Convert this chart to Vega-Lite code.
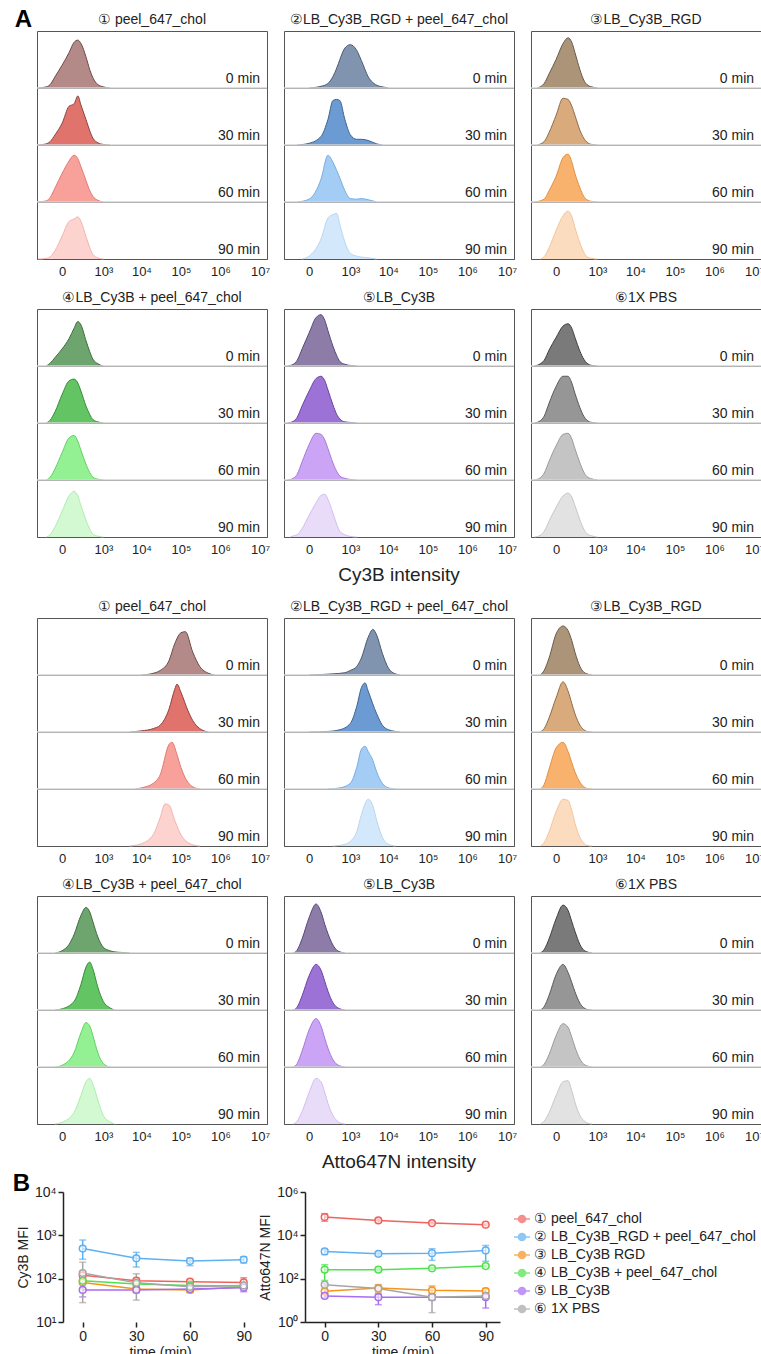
{
"$schema": "https://vega.github.io/schema/vega-lite/v6.json",
"background": "white",
"padding": {"left": 12, "top": 7, "right": 0, "bottom": 0},
"config": {"font": "Liberation Sans", "view": {"stroke": "#555", "strokeWidth": 1}},
"datasets": {
"hist": [
{"g":"C","p":"① peel_647_chol","t":"0 min","k":"1-0","x":[-300,-150,-100,-50,0,50,100,150,200,300,400,500,700,1000,1500],"y":[0,0.02,0.06,0.2,0.4,0.62,0.8,0.84,0.78,0.55,0.32,0.18,0.06,0.02,0]},
{"g":"C","p":"① peel_647_chol","t":"30 min","k":"1-30","x":[-300,-150,-100,-50,0,50,100,150,200,300,400,500,700,1000,1500],"y":[0,0.02,0.06,0.18,0.38,0.68,0.72,0.86,0.7,0.45,0.25,0.12,0.04,0.01,0]},
{"g":"C","p":"① peel_647_chol","t":"60 min","k":"1-60","x":[-300,-150,-100,-50,0,50,100,150,200,300,400,500,700,1000],"y":[0,0.02,0.08,0.25,0.5,0.72,0.82,0.76,0.62,0.38,0.2,0.1,0.03,0]},
{"g":"C","p":"① peel_647_chol","t":"90 min","k":"1-90","x":[-300,-150,-100,-50,0,50,100,150,200,300,400,500,700,1000],"y":[0,0.01,0.04,0.15,0.4,0.66,0.7,0.74,0.66,0.4,0.2,0.08,0.02,0]},
{"g":"C","p":"②LB_Cy3B_RGD + peel_647_chol","t":"0 min","k":"2-0","x":[0,100,200,300,400,500,700,1000,1500,2000,3000,5000,7000,10000],"y":[0,0.03,0.08,0.2,0.35,0.5,0.7,0.76,0.66,0.48,0.2,0.05,0.02,0]},
{"g":"C","p":"②LB_Cy3B_RGD + peel_647_chol","t":"30 min","k":"2-30","x":[-100,0,100,200,300,400,500,700,1000,1500,2000,3000,5000,7000],"y":[0,0.03,0.15,0.45,0.78,0.8,0.78,0.45,0.18,0.1,0.1,0.08,0.02,0]},
{"g":"C","p":"②LB_Cy3B_RGD + peel_647_chol","t":"60 min","k":"2-60","x":[-100,0,100,200,300,400,500,700,1000,1500,2000,3000,5000],"y":[0,0.05,0.4,0.82,0.7,0.55,0.42,0.2,0.06,0.05,0.06,0.04,0]},
{"g":"C","p":"②LB_Cy3B_RGD + peel_647_chol","t":"90 min","k":"2-90","x":[-50,0,100,200,300,400,500,700,1000,1500,3000,5000],"y":[0,0.05,0.35,0.72,0.78,0.8,0.6,0.3,0.1,0.05,0.02,0]},
{"g":"C","p":"③LB_Cy3B_RGD","t":"0 min","k":"3-0","x":[-200,-100,-50,0,50,100,150,200,300,400,500,700,1000],"y":[0,0.08,0.25,0.5,0.78,0.88,0.8,0.62,0.32,0.14,0.06,0.02,0]},
{"g":"C","p":"③LB_Cy3B_RGD","t":"30 min","k":"3-30","x":[-200,-100,-50,0,50,100,150,200,300,400,500,700,1000],"y":[0,0.06,0.22,0.52,0.82,0.8,0.68,0.52,0.26,0.12,0.05,0.01,0]},
{"g":"C","p":"③LB_Cy3B_RGD","t":"60 min","k":"3-60","x":[-250,-100,-50,0,50,100,150,200,300,400,500,700,1000],"y":[0,0.05,0.2,0.45,0.78,0.84,0.7,0.5,0.25,0.1,0.04,0.01,0]},
{"g":"C","p":"③LB_Cy3B_RGD","t":"90 min","k":"3-90","x":[-150,-100,-50,0,50,100,150,200,300,400,500,700,1000],"y":[0,0.04,0.2,0.5,0.76,0.84,0.74,0.55,0.28,0.12,0.04,0.01,0]},
{"g":"C","p":"④LB_Cy3B + peel_647_chol","t":"0 min","k":"4-0","x":[-150,-100,-50,0,50,100,150,200,300,400,500,700,1000],"y":[0,0.05,0.15,0.3,0.48,0.66,0.78,0.72,0.45,0.25,0.12,0.04,0]},
{"g":"C","p":"④LB_Cy3B + peel_647_chol","t":"30 min","k":"4-30","x":[-150,-100,-50,0,50,100,150,200,300,400,500,700,1000],"y":[0,0.05,0.2,0.5,0.74,0.77,0.7,0.56,0.3,0.15,0.06,0.02,0]},
{"g":"C","p":"④LB_Cy3B + peel_647_chol","t":"60 min","k":"4-60","x":[-150,-100,-50,0,50,100,150,200,300,400,500,700,1000],"y":[0,0.05,0.2,0.48,0.74,0.78,0.68,0.52,0.28,0.13,0.05,0.015,0]},
{"g":"C","p":"④LB_Cy3B + peel_647_chol","t":"90 min","k":"4-90","x":[-150,-100,-50,0,50,100,150,200,300,400,500,700,1000],"y":[0,0.04,0.18,0.45,0.72,0.8,0.72,0.55,0.3,0.14,0.05,0.015,0]},
{"g":"C","p":"⑤LB_Cy3B","t":"0 min","k":"5-0","x":[-250,-150,-100,-50,0,50,100,150,200,300,400,500,700,1000,1500],"y":[0,0.03,0.1,0.3,0.58,0.85,0.9,0.8,0.62,0.35,0.18,0.08,0.03,0.01,0]},
{"g":"C","p":"⑤LB_Cy3B","t":"30 min","k":"5-30","x":[-250,-150,-100,-50,0,50,100,150,200,300,400,500,700,1000,1500],"y":[0,0.03,0.1,0.3,0.56,0.78,0.82,0.74,0.58,0.32,0.15,0.07,0.02,0.01,0]},
{"g":"C","p":"⑤LB_Cy3B","t":"60 min","k":"5-60","x":[-250,-150,-100,-50,0,50,100,150,200,300,400,500,700,1000,1500],"y":[0,0.03,0.1,0.32,0.62,0.82,0.8,0.7,0.55,0.3,0.15,0.07,0.03,0.01,0]},
{"g":"C","p":"⑤LB_Cy3B","t":"90 min","k":"5-90","x":[-200,-150,-100,-50,0,50,100,150,200,300,400,500,700,1000,1500],"y":[0,0.02,0.04,0.15,0.38,0.6,0.73,0.75,0.66,0.42,0.22,0.1,0.04,0.01,0]},
{"g":"C","p":"⑥1X PBS","t":"0 min","k":"6-0","x":[-250,-150,-100,-50,0,50,100,150,200,300,400,500,700,1000],"y":[0,0.04,0.1,0.28,0.5,0.7,0.74,0.66,0.5,0.26,0.12,0.05,0.01,0]},
{"g":"C","p":"⑥1X PBS","t":"30 min","k":"6-30","x":[-250,-150,-100,-50,0,50,100,150,200,300,400,500,700,1000],"y":[0,0.04,0.12,0.35,0.64,0.82,0.82,0.7,0.52,0.27,0.12,0.05,0.01,0]},
{"g":"C","p":"⑥1X PBS","t":"60 min","k":"6-60","x":[-250,-150,-100,-50,0,50,100,150,200,300,400,500,700,1000],"y":[0,0.04,0.12,0.33,0.6,0.8,0.82,0.72,0.55,0.3,0.14,0.06,0.02,0]},
{"g":"C","p":"⑥1X PBS","t":"90 min","k":"6-90","x":[-250,-150,-100,-50,0,50,100,150,200,300,400,500,700,1000],"y":[0,0.03,0.1,0.28,0.52,0.72,0.77,0.7,0.55,0.3,0.14,0.06,0.02,0]},
{"g":"A","p":"① peel_647_chol","t":"0 min","k":"1-0","x":[10000,20000,30000,50000,70000,100000,130000,200000,300000,500000,700000],"y":[0,0.03,0.08,0.25,0.55,0.74,0.76,0.4,0.15,0.03,0]},
{"g":"A","p":"① peel_647_chol","t":"30 min","k":"1-30","x":[5000,10000,20000,30000,50000,70000,80000,100000,150000,200000,300000,500000],"y":[0,0.02,0.06,0.12,0.4,0.75,0.84,0.7,0.38,0.2,0.06,0]},
{"g":"A","p":"① peel_647_chol","t":"60 min","k":"1-60","x":[7000,10000,20000,30000,50000,60000,80000,100000,150000,200000,300000],"y":[0,0.02,0.1,0.25,0.78,0.82,0.6,0.38,0.12,0.04,0]},
{"g":"A","p":"① peel_647_chol","t":"90 min","k":"1-90","x":[5000,10000,20000,30000,40000,50000,70000,100000,150000,200000,300000],"y":[0,0.04,0.2,0.5,0.74,0.72,0.45,0.2,0.06,0.02,0]},
{"g":"A","p":"②LB_Cy3B_RGD + peel_647_chol","t":"0 min","k":"2-0","x":[0,300,700,1000,1500,2000,3000,4000,5000,7000,10000,15000,20000],"y":[0,0.02,0.04,0.08,0.15,0.3,0.66,0.8,0.7,0.38,0.12,0.02,0]},
{"g":"A","p":"②LB_Cy3B_RGD + peel_647_chol","t":"30 min","k":"2-30","x":[0,200,500,1000,1500,2000,2500,3000,5000,7000,10000,20000],"y":[0,0.01,0.04,0.15,0.45,0.78,0.86,0.72,0.32,0.12,0.04,0]},
{"g":"A","p":"②LB_Cy3B_RGD + peel_647_chol","t":"60 min","k":"2-60","x":[200,500,1000,1500,2000,2500,3000,4000,5000,7000,10000,15000],"y":[0,0.02,0.1,0.38,0.7,0.75,0.66,0.5,0.3,0.1,0.02,0]},
{"g":"A","p":"②LB_Cy3B_RGD + peel_647_chol","t":"90 min","k":"2-90","x":[300,700,1000,1500,2000,3000,4000,5000,7000,10000,15000],"y":[0,0.03,0.08,0.25,0.55,0.82,0.7,0.45,0.15,0.03,0]},
{"g":"A","p":"③LB_Cy3B_RGD","t":"0 min","k":"3-0","x":[-150,-100,-50,0,50,100,150,200,300,400,500,700],"y":[0,0.08,0.3,0.72,0.86,0.78,0.6,0.4,0.15,0.05,0.02,0]},
{"g":"A","p":"③LB_Cy3B_RGD","t":"30 min","k":"3-30","x":[-150,-100,-50,0,50,100,150,200,300,400,500,700],"y":[0,0.06,0.25,0.6,0.88,0.72,0.5,0.32,0.12,0.04,0.01,0]},
{"g":"A","p":"③LB_Cy3B_RGD","t":"60 min","k":"3-60","x":[-150,-100,-50,0,50,100,150,200,300,400,500,700],"y":[0,0.08,0.35,0.72,0.82,0.66,0.46,0.3,0.12,0.04,0.01,0]},
{"g":"A","p":"③LB_Cy3B_RGD","t":"90 min","k":"3-90","x":[-150,-100,-50,0,50,100,150,200,300,400,500,700],"y":[0,0.06,0.25,0.6,0.82,0.8,0.62,0.4,0.15,0.05,0.01,0]},
{"g":"A","p":"④LB_Cy3B + peel_647_chol","t":"0 min","k":"4-0","x":[-50,0,50,100,200,300,400,500,700,1000,1500,2000,3000,5000],"y":[0,0.04,0.15,0.32,0.66,0.8,0.72,0.55,0.28,0.1,0.04,0.02,0.01,0]},
{"g":"A","p":"④LB_Cy3B + peel_647_chol","t":"30 min","k":"4-30","x":[-50,0,100,200,300,400,500,700,1000,1500,2000],"y":[0,0.02,0.15,0.45,0.75,0.84,0.72,0.4,0.15,0.04,0]},
{"g":"A","p":"④LB_Cy3B + peel_647_chol","t":"60 min","k":"4-60","x":[-50,0,100,200,300,400,500,700,1000,1500],"y":[0,0.03,0.25,0.6,0.78,0.72,0.55,0.25,0.06,0]},
{"g":"A","p":"④LB_Cy3B + peel_647_chol","t":"90 min","k":"4-90","x":[-50,0,100,200,300,400,500,700,1000,1500,2000],"y":[0,0.03,0.2,0.5,0.74,0.8,0.7,0.42,0.15,0.04,0]},
{"g":"A","p":"⑤LB_Cy3B","t":"0 min","k":"5-0","x":[-150,-100,-50,0,50,100,150,200,300,400,500,700],"y":[0,0.05,0.25,0.62,0.86,0.72,0.5,0.34,0.14,0.05,0.02,0]},
{"g":"A","p":"⑤LB_Cy3B","t":"30 min","k":"5-30","x":[-150,-100,-50,0,50,100,150,200,300,400,500,700],"y":[0,0.05,0.25,0.6,0.8,0.7,0.5,0.33,0.13,0.05,0.02,0]},
{"g":"A","p":"⑤LB_Cy3B","t":"60 min","k":"5-60","x":[-150,-100,-50,0,50,100,150,200,300,400,500,700],"y":[0,0.06,0.28,0.65,0.85,0.72,0.5,0.33,0.13,0.05,0.02,0]},
{"g":"A","p":"⑤LB_Cy3B","t":"90 min","k":"5-90","x":[-150,-100,-50,0,50,100,150,200,300,400,500,700],"y":[0,0.05,0.22,0.55,0.8,0.74,0.55,0.36,0.15,0.06,0.02,0]},
{"g":"A","p":"⑥1X PBS","t":"0 min","k":"6-0","x":[-150,-100,-50,0,50,100,150,200,300,400,500,700],"y":[0,0.06,0.25,0.6,0.84,0.75,0.55,0.38,0.15,0.05,0.02,0]},
{"g":"A","p":"⑥1X PBS","t":"30 min","k":"6-30","x":[-150,-100,-50,0,50,100,150,200,300,400,500,700],"y":[0,0.06,0.26,0.62,0.8,0.66,0.48,0.32,0.12,0.04,0.01,0]},
{"g":"A","p":"⑥1X PBS","t":"60 min","k":"6-60","x":[-150,-100,-50,0,50,100,150,200,300,400,500,700],"y":[0,0.05,0.22,0.55,0.76,0.7,0.52,0.35,0.14,0.05,0.02,0]},
{"g":"A","p":"⑥1X PBS","t":"90 min","k":"6-90","x":[-150,-100,-50,0,50,100,150,200,300,400,500,700],"y":[0,0.05,0.2,0.5,0.74,0.76,0.58,0.38,0.15,0.06,0.02,0]}
],
"mfi": [
{"m":"C","s":"① peel_647_chol","time":0,"v":120,"lo":100,"hi":140},
{"m":"C","s":"① peel_647_chol","time":30,"v":90,"lo":80,"hi":102},
{"m":"C","s":"① peel_647_chol","time":60,"v":85,"lo":78,"hi":92},
{"m":"C","s":"① peel_647_chol","time":90,"v":82,"lo":62,"hi":105},
{"m":"C","s":"② LB_Cy3B_RGD + peel_647_chol","time":0,"v":495,"lo":280,"hi":780},
{"m":"C","s":"② LB_Cy3B_RGD + peel_647_chol","time":30,"v":295,"lo":185,"hi":405},
{"m":"C","s":"② LB_Cy3B_RGD + peel_647_chol","time":60,"v":255,"lo":200,"hi":300},
{"m":"C","s":"② LB_Cy3B_RGD + peel_647_chol","time":90,"v":275,"lo":230,"hi":320},
{"m":"C","s":"③ LB_Cy3B RGD","time":0,"v":82,"lo":58,"hi":105},
{"m":"C","s":"③ LB_Cy3B RGD","time":30,"v":58,"lo":48,"hi":70},
{"m":"C","s":"③ LB_Cy3B RGD","time":60,"v":55,"lo":48,"hi":62},
{"m":"C","s":"③ LB_Cy3B RGD","time":90,"v":65,"lo":60,"hi":70},
{"m":"C","s":"④ LB_Cy3B + peel_647_chol","time":0,"v":90,"lo":82,"hi":98},
{"m":"C","s":"④ LB_Cy3B + peel_647_chol","time":30,"v":75,"lo":68,"hi":82},
{"m":"C","s":"④ LB_Cy3B + peel_647_chol","time":60,"v":70,"lo":48,"hi":80},
{"m":"C","s":"④ LB_Cy3B + peel_647_chol","time":90,"v":68,"lo":62,"hi":72},
{"m":"C","s":"⑤ LB_Cy3B","time":0,"v":55,"lo":38,"hi":80},
{"m":"C","s":"⑤ LB_Cy3B","time":30,"v":55,"lo":48,"hi":62},
{"m":"C","s":"⑤ LB_Cy3B","time":60,"v":58,"lo":52,"hi":64},
{"m":"C","s":"⑤ LB_Cy3B","time":90,"v":62,"lo":50,"hi":72},
{"m":"C","s":"⑥ 1X PBS","time":0,"v":135,"lo":28,"hi":240},
{"m":"C","s":"⑥ 1X PBS","time":30,"v":80,"lo":32,"hi":130},
{"m":"C","s":"⑥ 1X PBS","time":60,"v":65,"lo":55,"hi":75},
{"m":"C","s":"⑥ 1X PBS","time":90,"v":70,"lo":62,"hi":80},
{"m":"A","s":"① peel_647_chol","time":0,"v":70000,"lo":45000,"hi":100000},
{"m":"A","s":"① peel_647_chol","time":30,"v":49000,"lo":40000,"hi":58000},
{"m":"A","s":"① peel_647_chol","time":60,"v":37000,"lo":33000,"hi":42000},
{"m":"A","s":"① peel_647_chol","time":90,"v":31000,"lo":28000,"hi":34000},
{"m":"A","s":"② LB_Cy3B_RGD + peel_647_chol","time":0,"v":1800,"lo":1300,"hi":2200},
{"m":"A","s":"② LB_Cy3B_RGD + peel_647_chol","time":30,"v":1400,"lo":1100,"hi":1700},
{"m":"A","s":"② LB_Cy3B_RGD + peel_647_chol","time":60,"v":1500,"lo":700,"hi":2400},
{"m":"A","s":"② LB_Cy3B_RGD + peel_647_chol","time":90,"v":2000,"lo":630,"hi":3400},
{"m":"A","s":"③ LB_Cy3B RGD","time":0,"v":26,"lo":20,"hi":32},
{"m":"A","s":"③ LB_Cy3B RGD","time":30,"v":37,"lo":24,"hi":53},
{"m":"A","s":"③ LB_Cy3B RGD","time":60,"v":29,"lo":18,"hi":46},
{"m":"A","s":"③ LB_Cy3B RGD","time":90,"v":27,"lo":20,"hi":35},
{"m":"A","s":"④ LB_Cy3B + peel_647_chol","time":0,"v":260,"lo":83,"hi":440},
{"m":"A","s":"④ LB_Cy3B + peel_647_chol","time":30,"v":260,"lo":230,"hi":290},
{"m":"A","s":"④ LB_Cy3B + peel_647_chol","time":60,"v":300,"lo":270,"hi":330},
{"m":"A","s":"④ LB_Cy3B + peel_647_chol","time":90,"v":380,"lo":340,"hi":420},
{"m":"A","s":"⑤ LB_Cy3B","time":0,"v":16,"lo":13,"hi":19},
{"m":"A","s":"⑤ LB_Cy3B","time":30,"v":14,"lo":6.3,"hi":20},
{"m":"A","s":"⑤ LB_Cy3B","time":60,"v":14,"lo":10,"hi":18},
{"m":"A","s":"⑤ LB_Cy3B","time":90,"v":14,"lo":4.4,"hi":22},
{"m":"A","s":"⑥ 1X PBS","time":0,"v":53,"lo":45,"hi":60},
{"m":"A","s":"⑥ 1X PBS","time":30,"v":35,"lo":30,"hi":40},
{"m":"A","s":"⑥ 1X PBS","time":60,"v":14,"lo":2.7,"hi":20},
{"m":"A","s":"⑥ 1X PBS","time":90,"v":16,"lo":12,"hi":20}
]
},
"vconcat": [
{
"spacing": 15,
"vconcat": [
{
"spacing": 13,
"vconcat": [
{
"data": {"name": "hist"},
"transform": [{"filter": {"and": [{"field": "g", "equal": "C"}, {"field": "p", "oneOf": ["① peel_647_chol", "②LB_Cy3B_RGD + peel_647_chol", "③LB_Cy3B_RGD"]}]}}, {"flatten": ["x", "y"]}],
"facet": {
"row": {"field": "t", "type": "nominal", "sort": ["0 min", "30 min", "60 min", "90 min"], "header": null},
"column": {"field": "p", "type": "nominal", "sort": ["① peel_647_chol", "②LB_Cy3B_RGD + peel_647_chol", "③LB_Cy3B_RGD"], "title": null, "header": {"labelOrient": "top", "labelFontSize": 14, "labelPadding": 4, "labelColor": "#222"}}
},
"spacing": {"row": 0, "column": 17},
"bounds": "flush",
"spec": {
"width": 230, "height": 57,
"layer": [
{"mark": {"type": "area", "interpolate": "monotone"},
 "encoding": {
  "x": {"field": "x", "type": "quantitative", "scale": {"type": "symlog", "constant": 100, "domain": [-330, 15000000], "nice": false, "zero": false}, "axis": {"values": [0, 1000, 10000, 100000, 1000000, 10000000], "labelExpr": "datum.value == 0 ? '0' : '10' + ['','','','³','⁴','⁵','⁶','⁷'][round(log(datum.value)/LN10)]", "title": null, "ticks": false, "grid": false, "labelFontSize": 13, "labelPadding": 6, "labelColor": "#222", "domainColor": "#444", "labelFlush": false, "labelOverlap": false}},
  "y": {"field": "y", "type": "quantitative", "scale": {"domain": [0, 1]}, "axis": null, "stack": null},
  "fill": {"field": "k", "type": "nominal", "scale": {"domain": ["1-0","1-30","1-60","1-90","2-0","2-30","2-60","2-90","3-0","3-30","3-60","3-90","4-0","4-30","4-60","4-90","5-0","5-30","5-60","5-90","6-0","6-30","6-60","6-90"], "range": ["#b48a88","#e0736c","#f8a19b","#fcd3cf","#8094b0","#6b9bd2","#a3cdf5","#d4e8fb","#ab9478","#d9ab7c","#f9b26e","#fcdcbf","#6ea56e","#63c463","#93f093","#d3f9d3","#8d7ca8","#9c72d6","#cba4f5","#e8dcf9","#7a7a7a","#969696","#c4c4c4","#e2e2e2"]}, "legend": null}
 }},
{"mark": {"type": "line", "interpolate": "monotone", "strokeWidth": 1},
 "encoding": {
  "x": {"field": "x", "type": "quantitative"},
  "y": {"field": "y", "type": "quantitative"},
  "stroke": {"field": "k", "type": "nominal", "scale": {"domain": ["1-0","1-30","1-60","1-90","2-0","2-30","2-60","2-90","3-0","3-30","3-60","3-90","4-0","4-30","4-60","4-90","5-0","5-30","5-60","5-90","6-0","6-30","6-60","6-90"], "range": ["#6b4a48","#8c4440","#e07a74","#f4b4ae","#4a5a70","#3d6490","#78aee0","#b8d6f2","#6a5a48","#8e6c48","#e09040","#f4c498","#3e6a3e","#3a8a3a","#62d062","#b0ecb0","#56487a","#6a44a4","#a47ad8","#d2bdf2","#404040","#5a5a5a","#9a9a9a","#c8c8c8"]}, "legend": null}
 }},
{"transform": [{"aggregate": [{"op": "count", "as": "n"}], "groupby": ["p", "t"]}, {"filter": "datum.t != '0 min'"}],
 "mark": {"type": "rule", "color": "#d4d4d4", "strokeWidth": 1.5},
 "encoding": {"y": {"datum": 1, "type": "quantitative"}}},
{"transform": [{"aggregate": [{"op": "count", "as": "n"}], "groupby": ["p", "t"]}],
 "mark": {"type": "text", "align": "right", "baseline": "alphabetic", "dy": -5, "fontSize": 14, "color": "#222"},
 "encoding": {"x": {"datum": 10000000, "type": "quantitative"}, "y": {"datum": 0, "type": "quantitative"}, "text": {"field": "t"}}},
{"transform": [{"aggregate": [{"op": "count", "as": "n"}], "groupby": ["p", "t"]}, {"filter": "datum.p == '① peel_647_chol' && datum.t == '0 min'"}],
 "mark": {"type": "text", "text": "A", "align": "right", "baseline": "alphabetic", "dx": -5, "dy": -4, "fontSize": 24, "fontWeight": "bold", "color": "#000"},
 "encoding": {"x": {"datum": -330, "type": "quantitative"}, "y": {"datum": 1, "type": "quantitative"}}}
]
}
},
{
"data": {"name": "hist"},
"transform": [{"filter": {"and": [{"field": "g", "equal": "C"}, {"field": "p", "oneOf": ["④LB_Cy3B + peel_647_chol", "⑤LB_Cy3B", "⑥1X PBS"]}]}}, {"flatten": ["x", "y"]}],
"facet": {
"row": {"field": "t", "type": "nominal", "sort": ["0 min", "30 min", "60 min", "90 min"], "header": null},
"column": {"field": "p", "type": "nominal", "sort": ["④LB_Cy3B + peel_647_chol", "⑤LB_Cy3B", "⑥1X PBS"], "title": "Cy3B intensity", "header": {"labelOrient": "top", "labelFontSize": 14, "labelPadding": 4, "labelColor": "#222", "titleOrient": "bottom", "titleFontSize": 19, "titleFontWeight": "normal", "titleColor": "#222", "titlePadding": 0}}
},
"spacing": {"row": 0, "column": 17},
"bounds": "flush",
"spec": {
"width": 230, "height": 57,
"layer": [
{"mark": {"type": "area", "interpolate": "monotone"},
 "encoding": {
  "x": {"field": "x", "type": "quantitative", "scale": {"type": "symlog", "constant": 100, "domain": [-330, 15000000], "nice": false, "zero": false}, "axis": {"values": [0, 1000, 10000, 100000, 1000000, 10000000], "labelExpr": "datum.value == 0 ? '0' : '10' + ['','','','³','⁴','⁵','⁶','⁷'][round(log(datum.value)/LN10)]", "title": null, "ticks": false, "grid": false, "labelFontSize": 13, "labelPadding": 6, "labelColor": "#222", "domainColor": "#444", "labelFlush": false, "labelOverlap": false}},
  "y": {"field": "y", "type": "quantitative", "scale": {"domain": [0, 1]}, "axis": null, "stack": null},
  "fill": {"field": "k", "type": "nominal", "scale": {"domain": ["1-0","1-30","1-60","1-90","2-0","2-30","2-60","2-90","3-0","3-30","3-60","3-90","4-0","4-30","4-60","4-90","5-0","5-30","5-60","5-90","6-0","6-30","6-60","6-90"], "range": ["#b48a88","#e0736c","#f8a19b","#fcd3cf","#8094b0","#6b9bd2","#a3cdf5","#d4e8fb","#ab9478","#d9ab7c","#f9b26e","#fcdcbf","#6ea56e","#63c463","#93f093","#d3f9d3","#8d7ca8","#9c72d6","#cba4f5","#e8dcf9","#7a7a7a","#969696","#c4c4c4","#e2e2e2"]}, "legend": null}
 }},
{"mark": {"type": "line", "interpolate": "monotone", "strokeWidth": 1},
 "encoding": {
  "x": {"field": "x", "type": "quantitative"},
  "y": {"field": "y", "type": "quantitative"},
  "stroke": {"field": "k", "type": "nominal", "scale": {"domain": ["1-0","1-30","1-60","1-90","2-0","2-30","2-60","2-90","3-0","3-30","3-60","3-90","4-0","4-30","4-60","4-90","5-0","5-30","5-60","5-90","6-0","6-30","6-60","6-90"], "range": ["#6b4a48","#8c4440","#e07a74","#f4b4ae","#4a5a70","#3d6490","#78aee0","#b8d6f2","#6a5a48","#8e6c48","#e09040","#f4c498","#3e6a3e","#3a8a3a","#62d062","#b0ecb0","#56487a","#6a44a4","#a47ad8","#d2bdf2","#404040","#5a5a5a","#9a9a9a","#c8c8c8"]}, "legend": null}
 }},
{"transform": [{"aggregate": [{"op": "count", "as": "n"}], "groupby": ["p", "t"]}, {"filter": "datum.t != '0 min'"}],
 "mark": {"type": "rule", "color": "#d4d4d4", "strokeWidth": 1.5},
 "encoding": {"y": {"datum": 1, "type": "quantitative"}}},
{"transform": [{"aggregate": [{"op": "count", "as": "n"}], "groupby": ["p", "t"]}],
 "mark": {"type": "text", "align": "right", "baseline": "alphabetic", "dy": -5, "fontSize": 14, "color": "#222"},
 "encoding": {"x": {"datum": 10000000, "type": "quantitative"}, "y": {"datum": 0, "type": "quantitative"}, "text": {"field": "t"}}}
]
}
}
]
},
{
"spacing": 13,
"vconcat": [
{
"data": {"name": "hist"},
"transform": [{"filter": {"and": [{"field": "g", "equal": "A"}, {"field": "p", "oneOf": ["① peel_647_chol", "②LB_Cy3B_RGD + peel_647_chol", "③LB_Cy3B_RGD"]}]}}, {"flatten": ["x", "y"]}],
"facet": {
"row": {"field": "t", "type": "nominal", "sort": ["0 min", "30 min", "60 min", "90 min"], "header": null},
"column": {"field": "p", "type": "nominal", "sort": ["① peel_647_chol", "②LB_Cy3B_RGD + peel_647_chol", "③LB_Cy3B_RGD"], "title": null, "header": {"labelOrient": "top", "labelFontSize": 14, "labelPadding": 4, "labelColor": "#222"}}
},
"spacing": {"row": 0, "column": 17},
"bounds": "flush",
"spec": {
"width": 230, "height": 57,
"layer": [
{"mark": {"type": "area", "interpolate": "monotone"},
 "encoding": {
  "x": {"field": "x", "type": "quantitative", "scale": {"type": "symlog", "constant": 100, "domain": [-330, 15000000], "nice": false, "zero": false}, "axis": {"values": [0, 1000, 10000, 100000, 1000000, 10000000], "labelExpr": "datum.value == 0 ? '0' : '10' + ['','','','³','⁴','⁵','⁶','⁷'][round(log(datum.value)/LN10)]", "title": null, "ticks": false, "grid": false, "labelFontSize": 13, "labelPadding": 6, "labelColor": "#222", "domainColor": "#444", "labelFlush": false, "labelOverlap": false}},
  "y": {"field": "y", "type": "quantitative", "scale": {"domain": [0, 1]}, "axis": null, "stack": null},
  "fill": {"field": "k", "type": "nominal", "scale": {"domain": ["1-0","1-30","1-60","1-90","2-0","2-30","2-60","2-90","3-0","3-30","3-60","3-90","4-0","4-30","4-60","4-90","5-0","5-30","5-60","5-90","6-0","6-30","6-60","6-90"], "range": ["#b48a88","#e0736c","#f8a19b","#fcd3cf","#8094b0","#6b9bd2","#a3cdf5","#d4e8fb","#ab9478","#d9ab7c","#f9b26e","#fcdcbf","#6ea56e","#63c463","#93f093","#d3f9d3","#8d7ca8","#9c72d6","#cba4f5","#e8dcf9","#7a7a7a","#969696","#c4c4c4","#e2e2e2"]}, "legend": null}
 }},
{"mark": {"type": "line", "interpolate": "monotone", "strokeWidth": 1},
 "encoding": {
  "x": {"field": "x", "type": "quantitative"},
  "y": {"field": "y", "type": "quantitative"},
  "stroke": {"field": "k", "type": "nominal", "scale": {"domain": ["1-0","1-30","1-60","1-90","2-0","2-30","2-60","2-90","3-0","3-30","3-60","3-90","4-0","4-30","4-60","4-90","5-0","5-30","5-60","5-90","6-0","6-30","6-60","6-90"], "range": ["#6b4a48","#8c4440","#e07a74","#f4b4ae","#4a5a70","#3d6490","#78aee0","#b8d6f2","#6a5a48","#8e6c48","#e09040","#f4c498","#3e6a3e","#3a8a3a","#62d062","#b0ecb0","#56487a","#6a44a4","#a47ad8","#d2bdf2","#404040","#5a5a5a","#9a9a9a","#c8c8c8"]}, "legend": null}
 }},
{"transform": [{"aggregate": [{"op": "count", "as": "n"}], "groupby": ["p", "t"]}, {"filter": "datum.t != '0 min'"}],
 "mark": {"type": "rule", "color": "#d4d4d4", "strokeWidth": 1.5},
 "encoding": {"y": {"datum": 1, "type": "quantitative"}}},
{"transform": [{"aggregate": [{"op": "count", "as": "n"}], "groupby": ["p", "t"]}],
 "mark": {"type": "text", "align": "right", "baseline": "alphabetic", "dy": -5, "fontSize": 14, "color": "#222"},
 "encoding": {"x": {"datum": 10000000, "type": "quantitative"}, "y": {"datum": 0, "type": "quantitative"}, "text": {"field": "t"}}}
]
}
},
{
"data": {"name": "hist"},
"transform": [{"filter": {"and": [{"field": "g", "equal": "A"}, {"field": "p", "oneOf": ["④LB_Cy3B + peel_647_chol", "⑤LB_Cy3B", "⑥1X PBS"]}]}}, {"flatten": ["x", "y"]}],
"facet": {
"row": {"field": "t", "type": "nominal", "sort": ["0 min", "30 min", "60 min", "90 min"], "header": null},
"column": {"field": "p", "type": "nominal", "sort": ["④LB_Cy3B + peel_647_chol", "⑤LB_Cy3B", "⑥1X PBS"], "title": "Atto647N intensity", "header": {"labelOrient": "top", "labelFontSize": 14, "labelPadding": 4, "labelColor": "#222", "titleOrient": "bottom", "titleFontSize": 19, "titleFontWeight": "normal", "titleColor": "#222", "titlePadding": 0}}
},
"spacing": {"row": 0, "column": 17},
"bounds": "flush",
"spec": {
"width": 230, "height": 57,
"layer": [
{"mark": {"type": "area", "interpolate": "monotone"},
 "encoding": {
  "x": {"field": "x", "type": "quantitative", "scale": {"type": "symlog", "constant": 100, "domain": [-330, 15000000], "nice": false, "zero": false}, "axis": {"values": [0, 1000, 10000, 100000, 1000000, 10000000], "labelExpr": "datum.value == 0 ? '0' : '10' + ['','','','³','⁴','⁵','⁶','⁷'][round(log(datum.value)/LN10)]", "title": null, "ticks": false, "grid": false, "labelFontSize": 13, "labelPadding": 6, "labelColor": "#222", "domainColor": "#444", "labelFlush": false, "labelOverlap": false}},
  "y": {"field": "y", "type": "quantitative", "scale": {"domain": [0, 1]}, "axis": null, "stack": null},
  "fill": {"field": "k", "type": "nominal", "scale": {"domain": ["1-0","1-30","1-60","1-90","2-0","2-30","2-60","2-90","3-0","3-30","3-60","3-90","4-0","4-30","4-60","4-90","5-0","5-30","5-60","5-90","6-0","6-30","6-60","6-90"], "range": ["#b48a88","#e0736c","#f8a19b","#fcd3cf","#8094b0","#6b9bd2","#a3cdf5","#d4e8fb","#ab9478","#d9ab7c","#f9b26e","#fcdcbf","#6ea56e","#63c463","#93f093","#d3f9d3","#8d7ca8","#9c72d6","#cba4f5","#e8dcf9","#7a7a7a","#969696","#c4c4c4","#e2e2e2"]}, "legend": null}
 }},
{"mark": {"type": "line", "interpolate": "monotone", "strokeWidth": 1},
 "encoding": {
  "x": {"field": "x", "type": "quantitative"},
  "y": {"field": "y", "type": "quantitative"},
  "stroke": {"field": "k", "type": "nominal", "scale": {"domain": ["1-0","1-30","1-60","1-90","2-0","2-30","2-60","2-90","3-0","3-30","3-60","3-90","4-0","4-30","4-60","4-90","5-0","5-30","5-60","5-90","6-0","6-30","6-60","6-90"], "range": ["#6b4a48","#8c4440","#e07a74","#f4b4ae","#4a5a70","#3d6490","#78aee0","#b8d6f2","#6a5a48","#8e6c48","#e09040","#f4c498","#3e6a3e","#3a8a3a","#62d062","#b0ecb0","#56487a","#6a44a4","#a47ad8","#d2bdf2","#404040","#5a5a5a","#9a9a9a","#c8c8c8"]}, "legend": null}
 }},
{"transform": [{"aggregate": [{"op": "count", "as": "n"}], "groupby": ["p", "t"]}, {"filter": "datum.t != '0 min'"}],
 "mark": {"type": "rule", "color": "#d4d4d4", "strokeWidth": 1.5},
 "encoding": {"y": {"datum": 1, "type": "quantitative"}}},
{"transform": [{"aggregate": [{"op": "count", "as": "n"}], "groupby": ["p", "t"]}],
 "mark": {"type": "text", "align": "right", "baseline": "alphabetic", "dy": -5, "fontSize": 14, "color": "#222"},
 "encoding": {"x": {"datum": 10000000, "type": "quantitative"}, "y": {"datum": 0, "type": "quantitative"}, "text": {"field": "t"}}}
]
}
}
]
}
]
},
{
"spacing": 0,
"resolve": {"scale": {"color": "independent"}},
"hconcat": [
{
"title": {"text": "B", "orient": "left", "angle": 0, "anchor": "end", "align": "right", "baseline": "alphabetic", "dy": 6, "offset": -31, "fontSize": 24, "fontWeight": "bold", "color": "#000"},
"width": 221, "height": 130, "view": {"stroke": null},
"data": {"name": "mfi"},
"transform": [{"filter": "datum.m == 'C'"}],
"encoding": {
 "x": {"field": "time", "type": "quantitative", "scale": {"domain": [-11, 98], "range": [26, 221], "nice": false, "zero": false}, "axis": {"values": [0, 30, 60, 90], "title": "time (min)", "titleX": 123, "grid": false, "domain": false, "tickSize": 5, "tickColor": "#222", "tickWidth": 1.5, "labelFontSize": 14, "labelColor": "#222", "labelPadding": 2, "titleFontSize": 14, "titleFontWeight": "normal", "titleColor": "#222", "titlePadding": 2, "labelFlush": false}}
},
"layer": [
 {"transform": [{"aggregate": [{"op": "count", "as": "n"}]}],
  "mark": {"type": "rule", "color": "#222", "strokeWidth": 1.5},
  "encoding": {"x": {"datum": -11, "type": "quantitative"}, "x2": {"datum": 98}, "y": {"datum": 10, "type": "quantitative", "scale": {"type": "log", "domain": [10, 10000], "nice": false}}}},
 {"mark": {"type": "errorbar", "ticks": {"size": 7}, "thickness": 1.5},
  "encoding": {"y": {"field": "lo", "type": "quantitative", "scale": {"type": "log", "domain": [10, 10000], "nice": false}, "axis": {"values": [10, 100, 1000, 10000], "labelExpr": "'10' + ['⁰','¹','²','³','⁴','⁵','⁶'][round(log(datum.value)/LN10)]", "title": "Cy3B MFI", "offset": -26, "grid": false, "tickSize": 5, "tickColor": "#222", "tickWidth": 1.5, "domainColor": "#222", "domainWidth": 1.5, "labelFontSize": 14, "labelColor": "#222", "labelPadding": 2, "titleFontSize": 14, "titleFontWeight": "normal", "titleColor": "#222", "titlePadding": 4}}, "y2": {"field": "hi"},
   "color": {"field": "s", "type": "nominal", "scale": {"domain": ["① peel_647_chol", "② LB_Cy3B_RGD + peel_647_chol", "③ LB_Cy3B RGD", "④ LB_Cy3B + peel_647_chol", "⑤ LB_Cy3B", "⑥ 1X PBS"], "range": ["#f0625d", "#5fb0f2", "#f7941d", "#4de34d", "#a66cf2", "#a6a6a6"]}, "legend": null}}},
 {"mark": {"type": "line", "strokeWidth": 1.5},
  "encoding": {"y": {"field": "v", "type": "quantitative", "title": "Cy3B MFI"}, "color": {"field": "s", "type": "nominal", "legend": null}}},
 {"mark": {"type": "point", "filled": false, "fill": "white", "fillOpacity": 0.6, "size": 45, "strokeWidth": 1.5, "opacity": 1},
  "encoding": {"y": {"field": "v", "type": "quantitative", "title": "Cy3B MFI"}, "color": {"field": "s", "type": "nominal", "legend": null}}}
]
},
{
"width": 195, "height": 130, "view": {"stroke": null},
"data": {"name": "mfi"},
"transform": [{"filter": "datum.m == 'A'"}],
"encoding": {
 "x": {"field": "time", "type": "quantitative", "scale": {"domain": [-11, 98], "nice": false, "zero": false}, "axis": {"values": [0, 30, 60, 90], "title": "time (min)", "grid": false, "tickSize": 5, "tickColor": "#222", "tickWidth": 1.5, "domainColor": "#222", "domainWidth": 1.5, "labelFontSize": 14, "labelColor": "#222", "labelPadding": 2, "titleFontSize": 14, "titleFontWeight": "normal", "titleColor": "#222", "titlePadding": 2, "labelFlush": false}},
 "color": {"field": "s", "type": "nominal", "scale": {"domain": ["① peel_647_chol", "② LB_Cy3B_RGD + peel_647_chol", "③ LB_Cy3B RGD", "④ LB_Cy3B + peel_647_chol", "⑤ LB_Cy3B", "⑥ 1X PBS"], "range": ["#f0625d", "#5fb0f2", "#f7941d", "#4de34d", "#a66cf2", "#a6a6a6"]}, "legend": {"title": null, "orient": "right", "offset": -5, "padding": 18, "symbolType": "M-1,0H-0.45M0.45,0H1M0.45,0A0.45,0.45,0,1,1,-0.45,0A0.45,0.45,0,1,1,0.45,0", "symbolSize": 256, "symbolStrokeWidth": 1.5, "symbolFillColor": "white", "labelFontSize": 14, "labelColor": "#222", "labelLimit": 320, "rowPadding": 2, "labelOffset": 3}}
},
"layer": [
 {"mark": {"type": "errorbar", "ticks": {"size": 7}, "thickness": 1.5},
  "encoding": {"y": {"field": "lo", "type": "quantitative", "scale": {"type": "log", "domain": [1, 1000000], "nice": false}, "axis": {"values": [1, 100, 10000, 1000000], "labelExpr": "'10' + ['⁰','¹','²','³','⁴','⁵','⁶'][round(log(datum.value)/LN10)]", "title": "Atto647N MFI", "grid": false, "tickSize": 5, "tickColor": "#222", "tickWidth": 1.5, "domainColor": "#222", "domainWidth": 1.5, "labelFontSize": 14, "labelColor": "#222", "labelPadding": 2, "titleFontSize": 14, "titleFontWeight": "normal", "titleColor": "#222", "titlePadding": 4}}, "y2": {"field": "hi"}}},
 {"mark": {"type": "line", "strokeWidth": 1.5},
  "encoding": {"y": {"field": "v", "type": "quantitative", "title": "Atto647N MFI"}}},
 {"mark": {"type": "point", "filled": false, "fill": "white", "fillOpacity": 0.6, "size": 45, "strokeWidth": 1.5, "opacity": 1},
  "encoding": {"y": {"field": "v", "type": "quantitative", "title": "Atto647N MFI"}}}
]
}
]
}
],
"spacing": 0
}
